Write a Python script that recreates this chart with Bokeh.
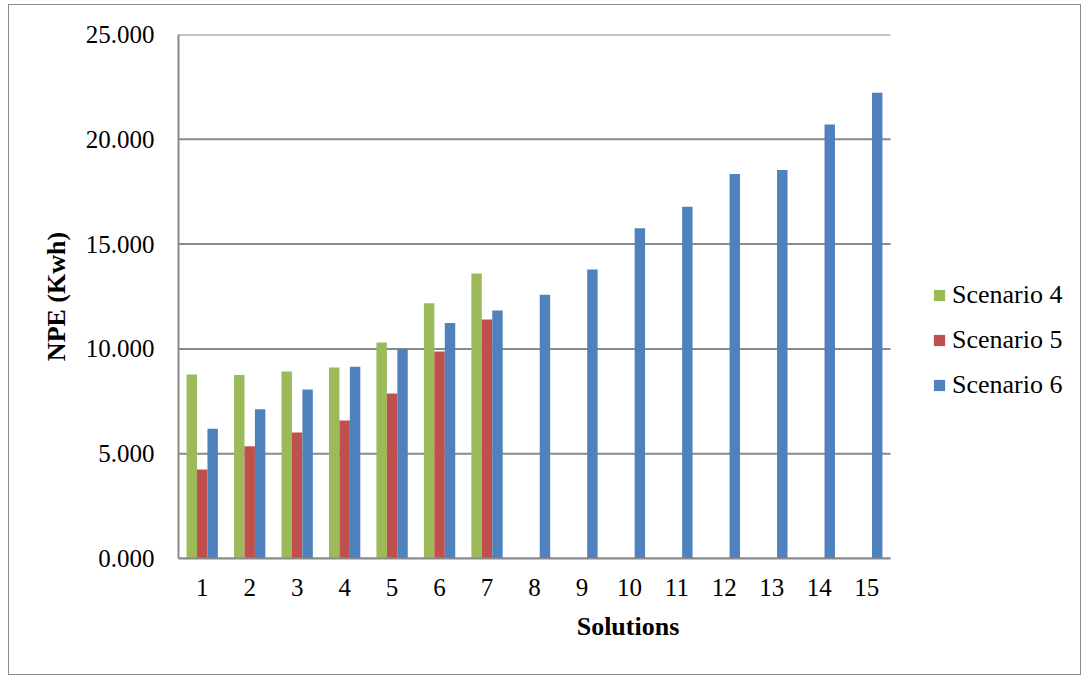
from bokeh.plotting import figure
from bokeh.models import (ColumnDataSource, Legend, LegendItem, CustomJSTickFormatter,
                          FixedTicker, Range1d)
from bokeh.embed import file_html
from bokeh.resources import INLINE

# ---- data ----
solutions = list(range(1, 16))
tick_labels = [str(s) for s in solutions]
scenario4_solutions = [1, 2, 3, 4, 5, 6, 7]
scenario4 = [8780, 8760, 8920, 9110, 10310, 12180, 13600]
scenario5_solutions = [1, 2, 3, 4, 5, 6, 7]
scenario5 = [4250, 5360, 6010, 6580, 7870, 9880, 11400]
scenario6_solutions = solutions
scenario6 = [6190, 7120, 8060, 9150, 10000, 11240, 11830,
             12580, 13790, 15760, 16780, 18350, 18540, 20710, 22220]
series_names = ["Scenario 4", "Scenario 5", "Scenario 6"]
colors = ["#9BBB59", "#C0504D", "#4F81BD"]
y_ticks = [0, 5000, 10000, 15000, 20000, 25000]

FONT = "Liberation Serif"
GRID = "#8a8a8a"

W, H = 1073, 671
LEFT, RIGHT, TOP, BOTTOM = 170, 4, 30, 117
cat_lo, cat_hi = 0.5, 15.5
plot_px = 712  # pixel width of the category area
frame_px = W - LEFT - RIGHT
x_end = cat_lo + (cat_hi - cat_lo) * frame_px / plot_px

p = figure(width=W, height=H, output_backend="svg", toolbar_location=None,
           x_range=Range1d(cat_lo, x_end), y_range=Range1d(0, 25000),
           min_border_left=LEFT, min_border_right=RIGHT, min_border_top=TOP,
           min_border_bottom=BOTTOM)
p.margin = (4, 0, 0, 8)
p.styles = {"outline": "1px solid #8c8c8c", "outline-offset": "-1px",
            "width": f"{W}px", "height": f"{H}px"}
p.outline_line_color = None
p.background_fill_color = None
p.border_fill_color = None

# horizontal gridlines limited to the category area
p.xgrid.visible = False
p.ygrid.visible = False
p.segment(x0=[cat_lo] * len(y_ticks), x1=[cat_hi] * len(y_ticks), y0=y_ticks, y1=y_ticks,
          line_color=GRID, line_width=2)

bw = 0.22
offsets = [-bw, 0.0, bw]
renderers = []
for xs, ys, off, col in zip([scenario4_solutions, scenario5_solutions, scenario6_solutions],
                            [scenario4, scenario5, scenario6], offsets, colors):
    src = ColumnDataSource(dict(x=[x + off for x in xs], top=ys))
    r = p.vbar(x="x", top="top", width=bw, bottom=0, source=src,
               fill_color=col, line_color=None)
    renderers.append(r)

# axes
p.xaxis.ticker = FixedTicker(ticks=solutions)
p.xaxis.major_label_overrides = {s: t for s, t in zip(solutions, tick_labels)}
p.xaxis.bounds = (cat_lo, cat_hi)
p.yaxis.ticker = FixedTicker(ticks=y_ticks)
p.yaxis.formatter = CustomJSTickFormatter(code="return (tick/1000).toFixed(3);")
for ax in (p.xaxis[0], p.yaxis[0]):
    ax.axis_line_color = GRID
    ax.axis_line_width = 2
    ax.major_tick_line_color = None
    ax.minor_tick_line_color = None
    ax.major_tick_out = 0
    ax.major_tick_in = 0
    ax.minor_tick_out = 0
    ax.minor_tick_in = 0
    ax.major_label_text_font = FONT
    ax.major_label_text_font_size = "25px"
    ax.major_label_text_color = "black"
    ax.axis_label_text_font = FONT
    ax.axis_label_text_font_size = "26px"
    ax.axis_label_text_font_style = "bold"
    ax.axis_label_text_color = "black"

p.xaxis.axis_label = "Solutions"
p.yaxis.axis_label = "NPE (Kwh)"
p.xaxis.major_label_standoff = 20
p.xaxis.axis_label_standoff = 13
p.yaxis.major_label_standoff = 24
p.yaxis.axis_label_standoff = 12

legend = Legend(items=[LegendItem(label=n, renderers=[r]) for n, r in zip(series_names, renderers)],
                location=(754, 158), orientation="vertical")
legend.border_line_color = None
legend.background_fill_color = None
legend.padding = 0
legend.margin = 0
legend.glyph_width = 14
legend.glyph_height = 14
legend.label_standoff = 6
legend.spacing = 15
legend.label_text_font = FONT
legend.label_text_font_size = "26px"
legend.label_text_color = "black"
p.add_layout(legend, "center")

open("out.html", "w").write(file_html(p, INLINE))
